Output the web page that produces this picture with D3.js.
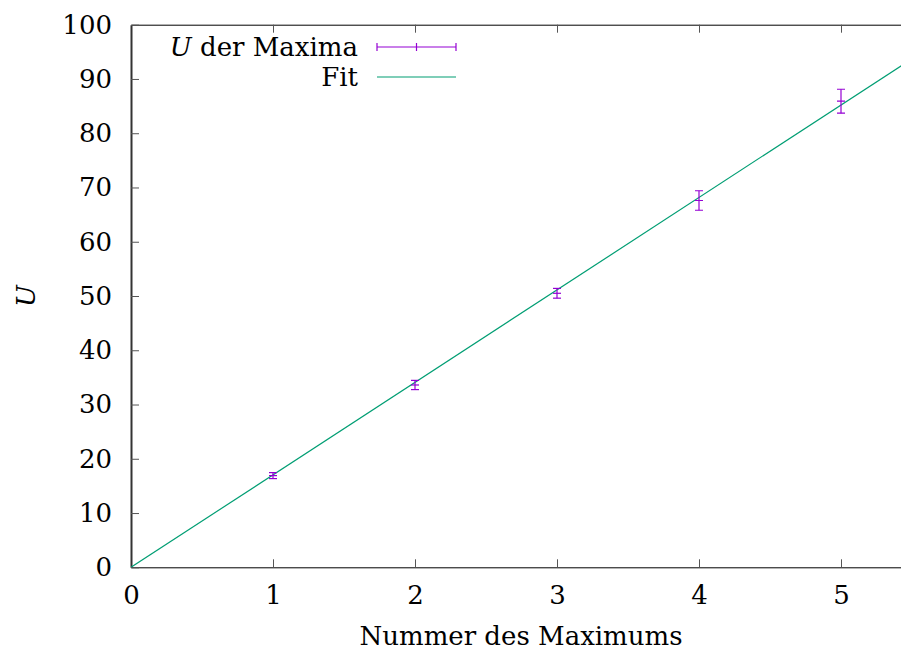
<!DOCTYPE html>
<html>
<head>
<meta charset="utf-8">
<script src="https://cdn.jsdelivr.net/npm/d3@7"></script>
<style>
  body { margin: 0; background: #fff; }
  svg { display: block; }
</style>
</head>
<body>
<div id="chart"></div>
<script>
// ------------------------------------------------------------
// Data
// ------------------------------------------------------------
const nummer = [1, 2, 3, 4, 5];
const spannung = [16.9, 33.6, 50.5, 67.6, 85.9];
const fehler = [0.55, 0.85, 0.9, 1.8, 2.2];
const fitSlope = 17.04;
const xTicks = [0, 1, 2, 3, 4, 5];
const yTicks = [0, 10, 20, 30, 40, 50, 60, 70, 80, 90, 100];

const width = 901, height = 653;
const margin = { top: 24.7, right: -11, bottom: 85.7, left: 131 };
const fontSize = 26;
const fontFamily = "'DejaVu Serif', 'Liberation Serif', serif";
const purple = "#9400d3";
const green = "#009e73";

const svg = d3.select("#chart").append("svg")
  .attr("width", width)
  .attr("height", height);

const x = d3.scaleLinear()
  .domain([0, 5.5])
  .range([margin.left, width - margin.right]);

const y = d3.scaleLinear()
  .domain([0, 100])
  .range([height - margin.bottom, margin.top]);

// Axes (ticks point inward, like gnuplot)
const xAxis = svg.append("g")
  .attr("transform", `translate(0,${y(0)})`)
  .call(d3.axisBottom(x).tickValues(xTicks).tickFormat(d3.format("d"))
    .tickSize(-8).tickSizeOuter(0).tickPadding(18));

const xTop = svg.append("g")
  .attr("transform", `translate(0,${y(100)})`)
  .call(d3.axisTop(x).tickValues(xTicks).tickSize(-8).tickSizeOuter(0).tickFormat(""));

const yAxis = svg.append("g")
  .attr("transform", `translate(${x(0)},0)`)
  .call(d3.axisLeft(y).tickValues(yTicks).tickFormat(d3.format("d"))
    .tickSize(-8).tickSizeOuter(0).tickPadding(19));

[xAxis, xTop, yAxis].forEach(g => {
  g.attr("font-family", null).attr("font-size", null);
  g.select(".domain").attr("stroke", "#000").attr("stroke-width", 1);
  g.selectAll(".tick line").attr("stroke", "#555").attr("stroke-width", 1);
  g.selectAll("text")
    .style("font-size", fontSize + "px")
    .style("font-family", fontFamily)
    .attr("fill", "#000");
});
yAxis.select(".domain").attr("stroke", "#333").attr("stroke-width", 2);
xTop.selectAll(".tick").filter(d => d === 0).remove();
xAxis.selectAll(".tick line").filter(d => d === 0).remove();

// Axis labels
svg.append("text")
  .attr("x", 521)
  .attr("y", 645)
  .attr("text-anchor", "middle")
  .style("font-size", fontSize + "px")
  .style("font-family", fontFamily)
  .text("Nummer des Maximums");

svg.append("text")
  .attr("transform", `translate(35,${(y(0) + y(100)) / 2}) rotate(-90)`)
  .attr("text-anchor", "middle")
  .style("font-size", fontSize + "px")
  .style("font-family", fontFamily)
  .style("font-style", "italic")
  .text("U");

// Clip to plot area
svg.append("clipPath").attr("id", "clip")
  .append("rect")
  .attr("x", x(0)).attr("y", y(100))
  .attr("width", x(5.5) - x(0)).attr("height", y(0) - y(100));

const plot = svg.append("g").attr("clip-path", "url(#clip)");

// Fit line
const fitDomain = x.domain();
plot.append("line")
  .attr("x1", x(fitDomain[0])).attr("y1", y(fitSlope * fitDomain[0]))
  .attr("x2", x(fitDomain[1])).attr("y2", y(fitSlope * fitDomain[1]))
  .attr("stroke", green)
  .attr("stroke-width", 1.2);

// Error bars
const cap = 4;
const data = nummer.map((n, i) => ({ n, u: spannung[i], e: fehler[i] }));
const bars = plot.selectAll(".err")
  .data(data)
  .join("g")
  .attr("class", "err")
  .attr("stroke", purple)
  .attr("stroke-width", 1.2);

bars.append("line")
  .attr("x1", d => x(d.n)).attr("x2", d => x(d.n))
  .attr("y1", d => y(d.u - d.e)).attr("y2", d => y(d.u + d.e));
bars.append("line")
  .attr("x1", d => x(d.n) - cap).attr("x2", d => x(d.n) + cap)
  .attr("y1", d => y(d.u - d.e)).attr("y2", d => y(d.u - d.e));
bars.append("line")
  .attr("x1", d => x(d.n) - cap).attr("x2", d => x(d.n) + cap)
  .attr("y1", d => y(d.u + d.e)).attr("y2", d => y(d.u + d.e));
bars.append("line")
  .attr("x1", d => x(d.n) - cap).attr("x2", d => x(d.n) + cap)
  .attr("y1", d => y(d.u)).attr("y2", d => y(d.u));

// Legend
const legend = svg.append("g");
const lx = 358, sx1 = 377, sx2 = 456;

const l1 = legend.append("text")
  .attr("x", lx).attr("y", 56)
  .attr("text-anchor", "end")
  .style("font-size", fontSize + "px")
  .style("font-family", fontFamily);
l1.append("tspan").style("font-style", "italic").text("U");
l1.append("tspan").text(" der Maxima");

const ly1 = 47;
legend.append("line")
  .attr("x1", sx1).attr("x2", sx2).attr("y1", ly1).attr("y2", ly1)
  .attr("stroke", purple).attr("stroke-width", 1.2);
[sx1, (sx1 + sx2) / 2, sx2].forEach(px => {
  legend.append("line")
    .attr("x1", px).attr("x2", px).attr("y1", ly1 - cap).attr("y2", ly1 + cap)
    .attr("stroke", purple).attr("stroke-width", 1.2);
});

legend.append("text")
  .attr("x", lx).attr("y", 86)
  .attr("text-anchor", "end")
  .style("font-size", fontSize + "px")
  .style("font-family", fontFamily)
  .text("Fit");

legend.append("line")
  .attr("x1", sx1).attr("x2", sx2).attr("y1", 77).attr("y2", 77)
  .attr("stroke", green).attr("stroke-width", 1.2);
</script>
</body>
</html>
